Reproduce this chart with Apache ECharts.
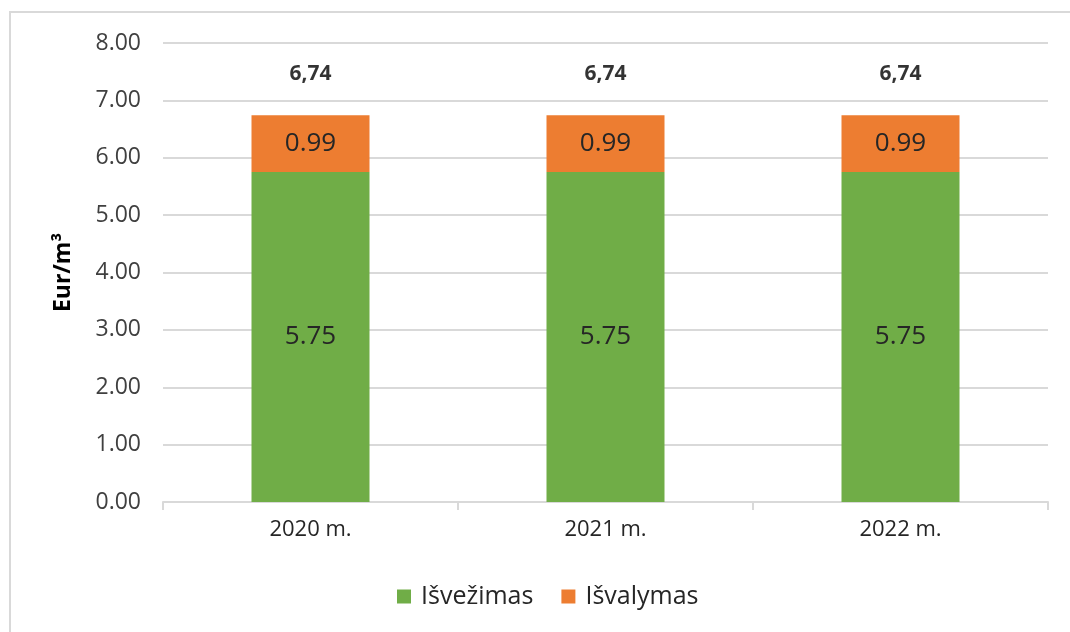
<!DOCTYPE html>
<html><head><meta charset="utf-8">
<script src="https://cdn.jsdelivr.net/npm/echarts@6/dist/echarts.min.js"></script>
<style>
html,body{margin:0;padding:0;background:#fff;}
#frame{position:absolute;left:9px;top:11px;width:1070px;height:640px;border:2px solid #d9d9d9;box-sizing:border-box;}
#c{position:absolute;left:0;top:0;width:1070px;height:632px;}
</style></head>
<body><div id="frame"></div><div id="c"></div>
<script>
const categories = ['2020 m.', '2021 m.', '2022 m.'];
const isvezimas = [5.75, 5.75, 5.75];
const isvalymas = [0.99, 0.99, 0.99];
const totals = [6.74, 6.74, 6.74];
const yTicks = [0, 8, 1];

const FONT = '"Open Sans", "Noto Sans", sans-serif';
const chart = echarts.init(document.getElementById('c'));
chart.setOption({
  animation: false,
  grid: {left: 163, right: 22, top: 43, bottom: 130, containLabel: false},
  legend: {
    bottom: 18, left: 392, itemWidth: 14, itemHeight: 14, itemGap: 28,
    icon: 'rect',
    textStyle: {fontFamily: FONT, fontSize: 25, color: '#262626', padding: [0, 0, 0, 5]},
    data: ['Išvežimas', 'Išvalymas']
  },
  xAxis: {
    type: 'category', data: categories,
    axisLine: {lineStyle: {color: '#d9d9d9', width: 2}},
    axisTick: {show: true, alignWithLabel: false, length: 8, lineStyle: {color: '#d9d9d9', width: 2}},
    axisLabel: {fontFamily: FONT, fontSize: 22, color: '#262626', margin: 17}
  },
  yAxis: {
    type: 'value', min: yTicks[0], max: yTicks[1], interval: yTicks[2],
    name: 'Eur/m³', nameLocation: 'middle', nameGap: 88, nameRotate: 90,
    nameTextStyle: {fontFamily: FONT, fontSize: 23, fontWeight: 'bold', color: '#000'},
    axisLine: {show: false}, axisTick: {show: false},
    splitLine: {lineStyle: {color: '#d9d9d9', width: 2}},
    axisLabel: {fontFamily: FONT, fontSize: 23, color: '#404040', margin: 22,
      formatter: v => v.toFixed(2)}
  },
  series: [
    {name: 'Išvežimas', type: 'bar', stack: 's', data: isvezimas, barWidth: 118,
     itemStyle: {color: '#70AD47'},
     label: {show: true, position: 'inside', fontFamily: FONT, fontSize: 26, color: '#262626',
       formatter: p => p.value.toFixed(2)}},
    {name: 'Išvalymas', type: 'bar', stack: 's', data: isvalymas, barWidth: 118,
     itemStyle: {color: '#ED7D31'},
     label: {show: true, position: 'inside', fontFamily: FONT, fontSize: 26, color: '#262626',
       formatter: p => p.value.toFixed(2)}},
    {name: 'total', type: 'scatter', data: totals, symbolSize: 2,
     itemStyle: {color: 'rgba(0,0,0,0)'}, silent: true, z: 10,
     label: {show: true, position: 'top', distance: 30, fontFamily: FONT, fontSize: 21,
       fontWeight: 'bold', color: '#000', formatter: p => p.value.toFixed(2).replace('.', ',')}}
  ]
});
</script></body></html>
